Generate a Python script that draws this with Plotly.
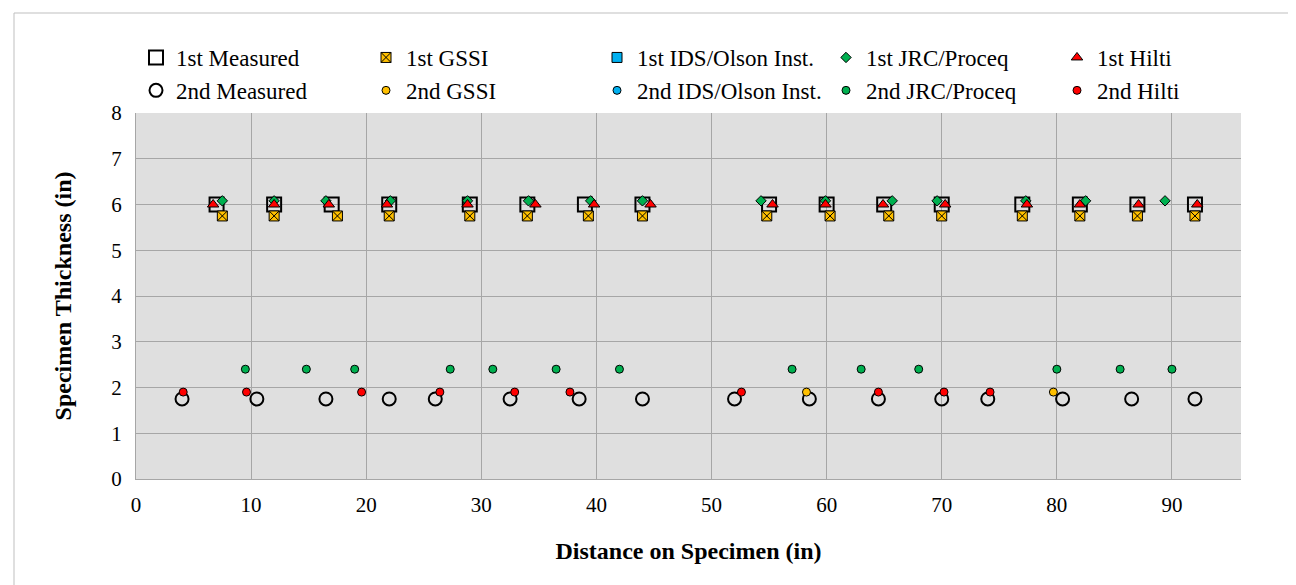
import plotly.graph_objects as go

# ---------------- data ----------------
x_meas1 = [7, 12, 17, 22, 29, 34, 39, 44, 55, 60, 65, 70, 77, 82, 87, 92]
y_meas1 = [6.0] * 16
x_gssi1 = [7.5, 12.0, 17.5, 22.0, 29.0, 34.0, 39.3, 44.0, 54.8, 60.3, 65.4, 70.0, 77.0, 82.0, 87.0, 92.0]
y_gssi1 = [5.75] * 16
x_ids1 = []
y_ids1 = []
x_jrc1 = [7.5, 12.0, 16.5, 22.1, 28.8, 34.1, 39.5, 44.0, 54.3, 59.9, 65.7, 69.6, 77.3, 82.5, 89.4]
y_jrc1 = [6.08] * 15
x_hilti1 = [6.7, 12.0, 16.75, 21.8, 28.8, 34.7, 39.8, 44.7, 55.3, 59.9, 64.9, 70.3, 77.4, 82.0, 87.1, 92.2]
y_hilti1 = [6.0] * 16

x_meas2 = [4, 10.5, 16.5, 22, 26, 32.5, 38.5, 44, 52, 58.5, 64.5, 70, 74, 80.5, 86.5, 92]
y_meas2 = [1.75] * 16
x_gssi2 = [58.25, 79.7]
y_gssi2 = [1.9, 1.9]
x_ids2 = []
y_ids2 = []
x_jrc2 = [9.5, 14.8, 19.0, 27.3, 31.0, 36.5, 42.0, 57.0, 63.0, 68.0, 80.0, 85.5, 90.0]
y_jrc2 = [2.4] * 13
x_hilti2 = [4.1, 9.6, 19.6, 26.4, 32.9, 37.7, 52.6, 64.5, 70.2, 74.2]
y_hilti2 = [1.9] * 10

x_ticks = [0, 10, 20, 30, 40, 50, 60, 70, 80, 90]
y_ticks = [0, 1, 2, 3, 4, 5, 6, 7, 8]

# ---------------- style ----------------
FONT = "Liberation Serif"
YELLOW = "#FFC000"
BLUE = "#00B0F0"
GREEN = "#00B050"
RED = "#FF0000"

W, H = 1296, 585
ML, MR, MT, MB = 128, 63, 105, 114
PW = W - ML - MR
PH = H - MT - MB


def px2paper_x(px):
    return (px - ML) / PW


def px2paper_y(py):
    return (H - MB - py) / PH


fig = go.Figure()

series = [
    ("1st Measured", x_meas1, y_meas1, dict(symbol="square-open", size=14, color="black", line=dict(width=2, color="black")), "legend"),
    ("1st GSSI", x_gssi1, y_gssi1, dict(symbol="square-x", size=10, color=YELLOW, line=dict(width=1, color="black")), "legend2"),
    ("1st IDS/Olson Inst.", x_ids1, y_ids1, dict(symbol="square", size=10, color=BLUE, line=dict(width=1, color="black")), "legend3"),
    ("1st JRC/Proceq", x_jrc1, y_jrc1, dict(symbol="diamond", size=8, color=GREEN, line=dict(width=1, color="black")), "legend4"),
    ("1st Hilti", x_hilti1, y_hilti1, dict(symbol="triangle-up", size=10, color=RED, line=dict(width=1, color="black")), "legend5"),
    ("2nd Measured", x_meas2, y_meas2, dict(symbol="circle-open", size=13, color="black", line=dict(width=2, color="black")), "legend"),
    ("2nd GSSI", x_gssi2, y_gssi2, dict(symbol="circle", size=8, color=YELLOW, line=dict(width=1, color="black")), "legend2"),
    ("2nd IDS/Olson Inst.", x_ids2, y_ids2, dict(symbol="circle", size=8, color=BLUE, line=dict(width=1, color="black")), "legend3"),
    ("2nd JRC/Proceq", x_jrc2, y_jrc2, dict(symbol="circle", size=8, color=GREEN, line=dict(width=1, color="black")), "legend4"),
    ("2nd Hilti", x_hilti2, y_hilti2, dict(symbol="circle", size=8, color=RED, line=dict(width=1, color="black")), "legend5"),
]

for name, xs, ys, mk, lg in series:
    fig.add_trace(go.Scatter(
        x=xs if len(xs) else [None], y=ys if len(ys) else [None],
        mode="markers", name=name, marker=mk,
        legend=lg, legendgroup=name, cliponaxis=False,
    ))

legend_text_px = [168, 398, 629, 858, 1089]
legend_keys = ["legend", "legend2", "legend3", "legend4", "legend5"]
leg_common = dict(
    orientation="v", xanchor="left", yanchor="top",
    y=px2paper_y(28), font=dict(family=FONT, size=23, color="black"),
    bgcolor="rgba(0,0,0,0)", borderwidth=0, tracegroupgap=1,
    traceorder="normal", itemclick=False, itemdoubleclick=False,
)
legend_layout = {}
for key, tx in zip(legend_keys, legend_text_px):
    legend_layout[key] = dict(leg_common, x=px2paper_x(tx - 40))

fig.update_layout(
    width=W, height=H,
    margin=dict(l=ML, r=MR, t=MT, b=MB),
    paper_bgcolor="white",
    plot_bgcolor="#DFDFDF",
    font=dict(family=FONT, size=21, color="black"),
    showlegend=True,
    **legend_layout,
    xaxis=dict(
        range=[0, 96], tickmode="array", tickvals=x_ticks,
        ticktext=[str(v) for v in x_ticks],
        showgrid=True, gridcolor="#A6A6A6", gridwidth=1,
        showline=True, linecolor="#A6A6A6", linewidth=1,
        zeroline=False, ticks="", ticklabelstandoff=7,
        tickfont=dict(family=FONT, size=21, color="black"),
        title=dict(text="<b>Distance on Specimen (in)</b>", standoff=25,
                   font=dict(family=FONT, size=24, color="black")),
        fixedrange=True,
    ),
    yaxis=dict(
        range=[0, 8], tickmode="array", tickvals=y_ticks,
        ticktext=[str(v) for v in y_ticks],
        showgrid=True, gridcolor="#A6A6A6", gridwidth=1,
        showline=True, linecolor="#A6A6A6", linewidth=1,
        zeroline=False, ticks="", ticklabelstandoff=9,
        tickfont=dict(family=FONT, size=21, color="black"),
        title=dict(text="<b>Specimen Thickness (in)</b>", standoff=32,
                   font=dict(family=FONT, size=24, color="black")),
        fixedrange=True,
    ),
    shapes=[dict(
        type="rect", xref="paper", yref="paper",
        x0=px2paper_x(6), x1=px2paper_x(1286),
        y0=px2paper_y(579), y1=px2paper_y(5),
        line=dict(color="#BFBFBF", width=1), fillcolor="rgba(0,0,0,0)", layer="below",
    )],
)

fig.write_html("out.html")
